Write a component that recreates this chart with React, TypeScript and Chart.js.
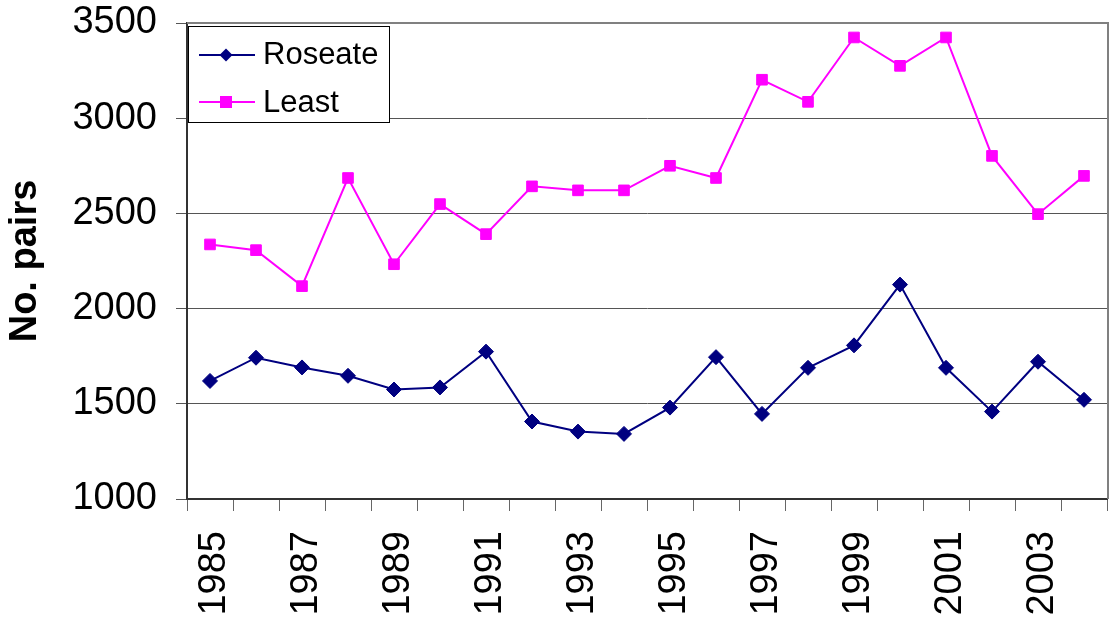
import React, { useEffect, useRef } from 'react';
import { Chart, registerables } from 'chart.js';

Chart.register(...registerables);

const years = ['1985', '1986', '1987', '1988', '1989', '1990', '1991', '1992', '1993', '1994', '1995', '1996', '1997', '1998', '1999', '2000', '2001', '2002', '2003', '2004'];
const roseate = [1620, 1742, 1691, 1647, 1575, 1586, 1774, 1407, 1354, 1342, 1480, 1745, 1447, 1689, 1807, 2126, 1689, 1459, 1721, 1521];
const least = [2337, 2307, 2118, 2686, 2233, 2549, 2391, 2642, 2621, 2621, 2750, 2686, 3202, 3086, 3424, 3275, 3424, 2802, 2496, 2697];
const yTicks = [1000, 1500, 2000, 2500, 3000, 3500];
const yTitle = 'No. pairs';

const FONT = "'Liberation Sans', Arial, sans-serif";
const NAVY = '#000080';
const MAGENTA = '#FF00FF';

const zeroPad = () => ({ left: 0, top: 0, right: 0, bottom: 0 });

const frameAndLegend = {
  id: 'frameAndLegend',
  beforeDatasetsDraw(chart: any) {
    const { ctx, chartArea } = chart;
    ctx.save();
    ctx.strokeStyle = '#808080';
    ctx.lineWidth = 2;
    ctx.beginPath();
    ctx.moveTo(chartArea.left, chartArea.top);
    ctx.lineTo(chartArea.right + 1, chartArea.top);
    ctx.lineTo(chartArea.right + 1, chartArea.bottom);
    ctx.stroke();
    ctx.restore();
  },
  afterDraw(chart: any) {
    const { ctx, chartArea } = chart;
    const ds = chart.data.datasets;
    const bx = chartArea.left + 1;
    const by = chartArea.top + 3;
    ctx.save();
    ctx.fillStyle = '#fff';
    ctx.fillRect(bx, by, 202, 97);
    ctx.strokeStyle = '#000';
    ctx.lineWidth = 1;
    ctx.strokeRect(bx + 0.5, by + 0.5, 201, 96);
    const rows = [
      { y: by + 29, base: by + 38, color: NAVY, shape: 'diamond' },
      { y: by + 76, base: by + 85.5, color: MAGENTA, shape: 'square' },
    ];
    rows.forEach((r, i) => {
      ctx.strokeStyle = r.color;
      ctx.fillStyle = r.color;
      ctx.lineWidth = 2;
      ctx.beginPath();
      ctx.moveTo(bx + 11, r.y);
      ctx.lineTo(bx + 67, r.y);
      ctx.stroke();
      const cx = bx + 38;
      ctx.beginPath();
      if (r.shape === 'diamond') {
        ctx.moveTo(cx - 6.5, r.y);
        ctx.lineTo(cx, r.y - 6.5);
        ctx.lineTo(cx + 6.5, r.y);
        ctx.lineTo(cx, r.y + 6.5);
        ctx.closePath();
      } else {
        ctx.rect(cx - 6, r.y - 6, 12, 12);
      }
      ctx.fill();
      ctx.fillStyle = '#000';
      ctx.font = `31px ${FONT}`;
      ctx.textAlign = 'left';
      ctx.textBaseline = 'alphabetic';
      ctx.fillText(ds[i].label, bx + 75, r.base);
    });
    ctx.restore();
  },
};

export default function App() {
  const ref = useRef<HTMLCanvasElement>(null);

  useEffect(() => {
    if (!ref.current) return;
    const chart = new Chart(ref.current, {
      type: 'line',
      data: {
        labels: years,
        datasets: [
          {
            label: 'Roseate',
            data: roseate,
            borderColor: NAVY,
            backgroundColor: NAVY,
            borderWidth: 2,
            pointStyle: 'rectRot',
            pointRadius: 7.5,
            pointBorderWidth: 1,
            pointBackgroundColor: NAVY,
            pointBorderColor: NAVY,
            tension: 0,
          },
          {
            label: 'Least',
            data: least,
            borderColor: MAGENTA,
            backgroundColor: MAGENTA,
            borderWidth: 2,
            pointStyle: 'rect',
            pointRadius: 7.5,
            pointBorderWidth: 1,
            pointBackgroundColor: MAGENTA,
            pointBorderColor: MAGENTA,
            tension: 0,
          },
        ],
      },
      options: {
        responsive: false,
        devicePixelRatio: 1,
        animation: false,
        layout: { autoPadding: false, padding: { left: 0, top: 23, right: 3, bottom: 0 } },
        plugins: {
          legend: { display: false },
          tooltip: { enabled: false },
          title: { display: false },
        },
        scales: {
          x: {
            type: 'category',
            offset: true,
            grid: {
              display: true,
              drawOnChartArea: false,
              drawTicks: true,
              tickLength: 12,
              color: '#666',
              offset: true,
            },
            border: { display: true, color: '#333', width: 2 },
            ticks: {
              autoSkip: false,
              minRotation: 90,
              maxRotation: 90,
              padding: 20,
              labelOffset: 5,
              color: '#000',
              font: { family: FONT, size: 38 },
              callback: (_v: any, i: number) => (i % 2 === 0 ? years[i] : ''),
            },
            afterFit: (s: any) => {
              s.height = 124;
              s.paddingLeft = 0;
              s.paddingRight = 0;
              s.getPadding = zeroPad;
            },
          },
          y: {
            type: 'linear',
            min: 1000,
            max: 3500,
            grid: {
              color: '#555',
              lineWidth: 1,
              tickLength: 11,
              drawTicks: true,
            },
            border: { display: true, color: '#333', width: 2 },
            afterBuildTicks: (s: any) => {
              s.ticks = yTicks.map((v) => ({ value: v }));
            },
            ticks: {
              padding: 19,
              color: '#000',
              font: { family: FONT, size: 38 },
              callback: (v: any) => String(v),
            },
            title: {
              display: true,
              text: yTitle,
              color: '#000',
              font: { family: FONT, size: 38, weight: 'bold' },
              padding: { top: 3, bottom: 0 },
            },
            afterFit: (s: any) => {
              s.width = 187;
              s.paddingTop = 0;
              s.paddingBottom = 0;
              s.getPadding = zeroPad;
            },
          },
        },
      },
      plugins: [frameAndLegend],
    } as any);
    return () => chart.destroy();
  }, []);

  return (
    <div style={{ position: 'absolute', left: 0, top: 0, width: 1110, height: 623, background: '#fff' }}>
      <canvas ref={ref} width={1110} height={623} style={{ display: 'block' }} />
    </div>
  );
}
